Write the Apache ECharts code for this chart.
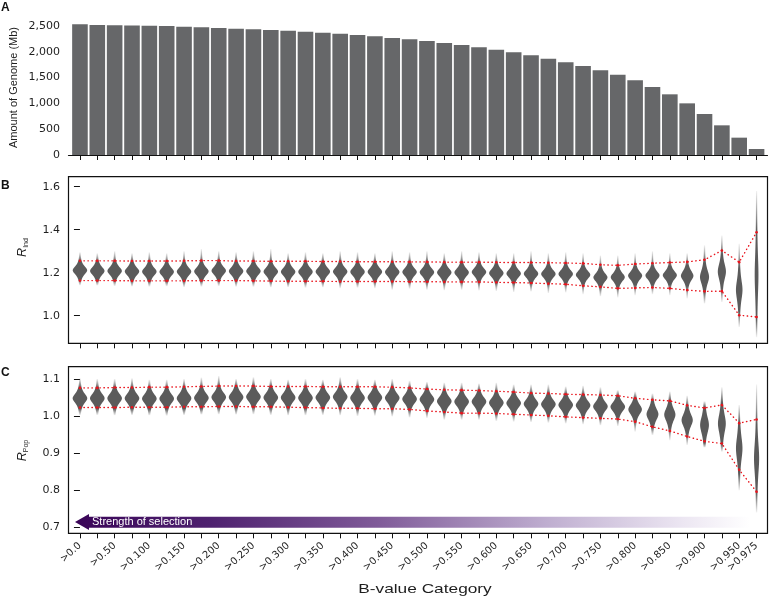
<!DOCTYPE html>
<html><head><meta charset="utf-8">
<script src="https://cdn.jsdelivr.net/npm/echarts@6/dist/echarts.min.js"></script>
<style>html,body{margin:0;padding:0;background:#fff}#c{width:769px;height:600px}</style>
</head><body><div id="c"></div>
<script>
// ---------- DATA ----------
const categories = [">0.0",">0.25",">0.50",">0.75",">0.100",">0.125",">0.150",">0.175",">0.200",">0.225",
  ">0.250",">0.275",">0.300",">0.325",">0.350",">0.375",">0.400",">0.425",">0.450",">0.475",
  ">0.500",">0.525",">0.550",">0.575",">0.600",">0.625",">0.650",">0.675",">0.700",">0.725",
  ">0.750",">0.775",">0.800",">0.825",">0.850",">0.875",">0.900",">0.925",">0.950",">0.975"];
const tickLabelIdx = [0,2,4,6,8,10,12,14,16,18,20,22,24,26,28,30,32,34,36,38,39];
const genomeTicks = [0,500,1000,1500,2000,2500];
const rIndTicks = [1.0,1.2,1.4,1.6];
const rPopTicks = [0.7,0.8,0.9,1.0,1.1];

const genomeMb = [2532,2519,2513,2511,2506,2500,2487,2474,2461,2448,2435,2422,2410,2390,2371,2351,2326,2300,2268,2242,
  2209,2171,2132,2087,2041,1990,1932,1867,1796,1725,1641,1557,1447,1318,1176,1001,795,575,336,116];

// Panel B (R_Ind): violin mode, spread, tail extents, lower/upper quantile
const modeB = [1.211,1.208,1.208,1.206,1.205,1.204,1.205,1.206,1.209,1.207,1.207,1.205,1.204,1.204,1.205,1.205,1.204,1.204,1.203,1.203,
  1.202,1.201,1.201,1.203,1.198,1.196,1.195,1.194,1.194,1.190,1.178,1.179,1.186,1.187,1.188,1.186,1.180,1.205,1.120,1.190];
const spreadB = [0.018,0.018,0.018,0.018,0.018,0.018,0.018,0.018,0.018,0.018,0.018,0.018,0.018,0.018,0.018,0.018,0.018,0.018,0.018,0.018,
  0.018,0.018,0.018,0.018,0.018,0.018,0.018,0.018,0.018,0.018,0.0185,0.0185,0.0185,0.0185,0.0185,0.021,0.030,0.034,0.044,0.09];
const hiB = [1.295,1.29,1.30,1.29,1.295,1.29,1.30,1.31,1.30,1.295,1.30,1.31,1.29,1.295,1.29,1.30,1.295,1.29,1.30,1.295,
  1.30,1.29,1.30,1.295,1.29,1.29,1.30,1.29,1.295,1.29,1.28,1.28,1.29,1.30,1.29,1.29,1.327,1.373,1.335,1.58];
const loB = [1.141,1.14,1.138,1.136,1.135,1.137,1.133,1.135,1.138,1.135,1.134,1.132,1.133,1.13,1.132,1.128,1.13,1.128,1.12,1.125,
  1.12,1.118,1.12,1.117,1.115,1.11,1.112,1.105,1.108,1.10,1.09,1.085,1.095,1.10,1.095,1.08,1.056,1.063,0.947,0.90];
const qHiB = [1.255,1.255,1.255,1.254,1.254,1.254,1.255,1.256,1.256,1.254,1.254,1.253,1.253,1.253,1.252,1.252,1.251,1.251,1.251,1.250,
  1.250,1.249,1.249,1.249,1.248,1.247,1.247,1.246,1.245,1.243,1.237,1.234,1.240,1.244,1.247,1.250,1.260,1.303,1.249,1.388];
const qLoB = [1.163,1.163,1.163,1.162,1.162,1.162,1.162,1.163,1.163,1.163,1.162,1.161,1.160,1.160,1.160,1.159,1.159,1.159,1.159,1.158,
  1.158,1.157,1.157,1.157,1.155,1.154,1.152,1.149,1.146,1.139,1.134,1.127,1.129,1.131,1.127,1.119,1.113,1.114,1.002,0.994];

// Panel C (R_Pop)
const modeC = [1.048,1.048,1.048,1.048,1.047,1.047,1.048,1.049,1.051,1.051,1.052,1.050,1.050,1.049,1.050,1.052,1.049,1.050,1.049,1.046,
  1.045,1.040,1.039,1.039,1.036,1.035,1.033,1.032,1.030,1.029,1.026,1.025,1.018,1.005,1.004,0.989,0.976,0.980,0.913,0.886];
const spreadC = [0.012,0.012,0.012,0.012,0.012,0.012,0.012,0.012,0.012,0.012,0.012,0.012,0.012,0.012,0.012,0.012,0.012,0.012,0.012,0.012,
  0.012,0.012,0.012,0.012,0.012,0.012,0.012,0.012,0.012,0.012,0.012,0.012,0.013,0.015,0.016,0.016,0.021,0.024,0.030,0.040];
const hiC = [1.102,1.10,1.10,1.102,1.098,1.098,1.10,1.104,1.108,1.10,1.105,1.10,1.098,1.10,1.098,1.105,1.10,1.098,1.10,1.095,
  1.092,1.09,1.09,1.088,1.09,1.085,1.085,1.085,1.08,1.082,1.078,1.07,1.066,1.061,1.066,1.055,1.04,1.078,1.03,1.085];
const loC = [1.003,1.003,1.002,1.003,1.002,1.001,1.003,1.004,1.005,1.004,1.005,1.003,1.002,1.002,1.003,1.002,1.0,1.001,0.999,0.996,
  0.995,0.99,0.99,0.99,0.987,0.985,0.984,0.982,0.98,0.978,0.975,0.973,0.958,0.949,0.935,0.922,0.915,0.904,0.80,0.74];
const qHiC = [1.076,1.076,1.077,1.077,1.078,1.078,1.079,1.080,1.081,1.081,1.081,1.080,1.080,1.080,1.079,1.079,1.079,1.079,1.078,1.076,
  1.073,1.071,1.070,1.069,1.067,1.065,1.062,1.061,1.059,1.058,1.057,1.055,1.048,1.044,1.041,1.029,1.022,1.030,0.981,0.991];
const qLoC = [1.023,1.023,1.023,1.024,1.024,1.024,1.025,1.025,1.026,1.026,1.025,1.025,1.024,1.023,1.022,1.021,1.021,1.020,1.020,1.018,
  1.014,1.011,1.008,1.008,1.007,1.005,1.003,1.001,0.998,0.996,0.994,0.992,0.985,0.971,0.960,0.945,0.932,0.926,0.855,0.796];

// ---------- CHART ----------
const chart = echarts.init(document.getElementById('c'), null, {renderer:'canvas'});
const idxAll = categories.map((c,i)=>i);
const TXT = '#1e1e1e';
const FONT = 'DejaVu Sans';
const VIOLIN = '91,91,91';

function xAxisFor(gi, showLabels, showLine){
  return {
    type:'value', gridIndex:gi, min:-0.66, max:39.63,
    splitLine:{show:false},
    axisLine:{show:showLine, onZero:false, lineStyle:{color:'#111', width:1.2}},
    axisTick:{show:true, customValues:idxAll, length:5, lineStyle:{color:'#111', width:1}},
    axisLabel: showLabels ? {
      show:true, customValues:tickLabelIdx, rotate:42, margin:11,
      formatter:(v)=>categories[Math.round(v)], fontFamily:FONT, fontSize:10, color:TXT
    } : {show:false}
  };
}
function yAxisFor(gi, min, max, ticks, fmt){
  return {
    type:'value', gridIndex:gi, min:min, max:max,
    splitLine:{show:false},
    axisLine:{show:false},
    axisTick:{show:true, customValues:ticks, length:6, lineStyle:{color:'#111', width:1}},
    axisLabel:{show:true, customValues:ticks, formatter:fmt, margin:8.5, fontFamily:FONT, fontSize:11, color:TXT}
  };
}
function violinSeries(gi, mode, spread, lo, hi, K){
  const data = mode.map((m,i)=>[i, m, spread[i], lo[i], hi[i]]);
  return {
    type:'custom', xAxisIndex:gi, yAxisIndex:gi, data:data, z:2, silent:true,
    renderItem:function(params, api){
      const i=api.value(0), m=api.value(1), s=api.value(2), l=api.value(3), h=api.value(4);
      const cx = api.coord([i, m])[0];
      const yTop = api.coord([i, h])[1], yBot = api.coord([i, l])[1];
      const W = K / s;
      const N = 90, right=[], left=[];
      for (let k=0;k<=N;k++){
        const v = h - (h-l)*k/N;
        const y = api.coord([i, v])[1];
        const w = W/Math.cosh((v-m)/s) + 0.55;
        right.push([cx+w, y]); left.push([cx-w, y]);
      }
      const pts = right.concat(left.reverse());
      const span = Math.max(1, yBot - yTop);
      const clamp = (t)=>Math.min(0.999, Math.max(0.001, t));
      let f1 = clamp((api.coord([i, m+2.3*s])[1]-yTop)/span);
      let f2 = clamp((api.coord([i, m-2.3*s])[1]-yTop)/span);
      if (f2 <= f1) { f2 = Math.min(0.999, f1+0.001); }
      return {
        type:'polygon', shape:{points:pts},
        style:{fill:{type:'linear', x:0, y:yTop, x2:0, y2:yBot, global:true, colorStops:[
          {offset:0, color:'rgba('+VIOLIN+',0.08)'},
          {offset:f1, color:'rgba('+VIOLIN+',1)'},
          {offset:f2, color:'rgba('+VIOLIN+',1)'},
          {offset:1, color:'rgba('+VIOLIN+',0.08)'}
        ]}, stroke:null}
      };
    }
  };
}
function redLine(gi, vals){
  return {
    type:'line', xAxisIndex:gi, yAxisIndex:gi, z:3, silent:true,
    data: vals.map((v,i)=>[i, v]),
    symbol:'circle', symbolSize:2.6, showSymbol:true,
    itemStyle:{color:'#e8141c'},
    lineStyle:{color:'#e8141c', width:1.4, type:[0.4,3.6], cap:'round'}
  };
}

const option = {
  animation:false,
  backgroundColor:'#fff',
  grid:[
    {left:68.5, width:699, top:20.84, height:134.16, show:false},
    {left:68.5, width:699, top:176.67, height:166.66, show:true, borderColor:'#111', borderWidth:1.2, backgroundColor:'transparent'},
    {left:68.5, width:699, top:366.67, height:166.66, show:true, borderColor:'#111', borderWidth:1.2, backgroundColor:'transparent'}
  ],
  xAxis:[ xAxisFor(0,false,true), xAxisFor(1,false,false), xAxisFor(2,true,false) ],
  yAxis:[
    yAxisFor(0, 0, 2600, genomeTicks, (v)=>Math.round(v).toLocaleString('en-US')),
    yAxisFor(1, 0.8713, 1.6465, rIndTicks, (v)=>v.toFixed(1)),
    yAxisFor(2, 0.6838, 1.1333, rPopTicks, (v)=>v.toFixed(1))
  ],
  series:[
    {type:'bar', xAxisIndex:0, yAxisIndex:0, barWidth:15.6, silent:true,
     data: genomeMb.map((v,i)=>[i, v]), itemStyle:{color:'#666769'}},
    violinSeries(1, modeB, spreadB, loB, hiB, 0.12),
    redLine(1, qHiB), redLine(1, qLoB),
    violinSeries(2, modeC, spreadC, loC, hiC, 0.081),
    redLine(2, qHiC), redLine(2, qLoC)
  ],
  graphic:[
    {type:'text', x:1, y:2, style:{text:'A', font:'bold 12px "Liberation Sans"', fill:'#111'}},
    {type:'text', x:1, y:180, style:{text:'B', font:'bold 12px "Liberation Sans"', fill:'#111'}},
    {type:'text', x:1, y:367, style:{text:'C', font:'bold 12px "Liberation Sans"', fill:'#111'}},
    {type:'text', x:13.5, y:87.5, rotation:Math.PI/2,
     style:{text:'Amount of Genome (Mb)', font:'11px "Liberation Sans"', fill:TXT, textAlign:'center', textVerticalAlign:'middle', align:'center', verticalAlign:'middle'}},
    {type:'text', x:23, y:247.5, rotation:Math.PI/2,
     style:{text:'{r|R}{s|Ind}', fill:TXT, textAlign:'center', textVerticalAlign:'middle', align:'center', verticalAlign:'middle',
       rich:{r:{fontSize:12.5, fontStyle:'italic', fontFamily:'Liberation Sans', fill:TXT, color:TXT},
             s:{fontSize:7, fontFamily:'Liberation Sans', verticalAlign:'bottom', fill:TXT, color:TXT}}}},
    {type:'text', x:23, y:450.5, rotation:Math.PI/2,
     style:{text:'{r|R}{s|Pop}', fill:TXT, textAlign:'center', textVerticalAlign:'middle', align:'center', verticalAlign:'middle',
       rich:{r:{fontSize:12.5, fontStyle:'italic', fontFamily:'Liberation Sans', fill:TXT, color:TXT},
             s:{fontSize:7, fontFamily:'Liberation Sans', verticalAlign:'bottom', fill:TXT, color:TXT}}}},
    {type:'text', x:425, y:589, scaleX:1.28,
     style:{text:'B-value Category', font:'13.5px "Liberation Sans"', fill:TXT, textAlign:'center', textVerticalAlign:'middle', align:'center', verticalAlign:'middle'}},
    {type:'polygon', z:1,
     shape:{points:[[75,522],[89,514],[89,516.7],[750,516.7],[750,527.7],[89,527.7],[89,530]]},
     style:{fill:{type:'linear', x:75, y:0, x2:750, y2:0, global:true, colorStops:[
       {offset:0, color:'#3a0558'},{offset:0.2, color:'#4e216f'},{offset:0.45, color:'#805b99'},
       {offset:0.7, color:'#bfaed0'},{offset:0.9, color:'#ece6f2'},{offset:1, color:'#ffffff'}]}}},
    {type:'text', x:92, y:522, z:2,
     style:{text:'Strength of selection', font:'11px "Liberation Sans"', fill:'#fff', textVerticalAlign:'middle', verticalAlign:'middle'}}
  ]
};
chart.setOption(option);
</script></body></html>
